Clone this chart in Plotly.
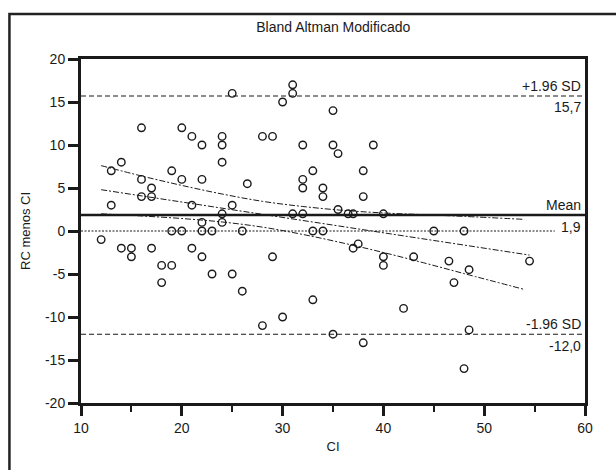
import plotly.graph_objects as go

# ---- data ----
ci = [12, 13, 13, 14, 14, 15, 15, 16, 16, 16, 17, 17, 17, 18, 18, 19, 19, 19,
      20, 20, 20, 21, 21, 21, 22, 22, 22, 22, 22, 23, 23, 24, 24, 24, 24, 24,
      25, 25, 25, 26, 26, 26.5, 28, 28, 29, 29, 30, 30, 31, 31, 31, 32, 32, 32, 32,
      33, 33, 33, 34, 34, 34, 35, 35, 35, 35.5, 35.5, 36.5, 37, 37, 37.5, 38, 38, 38,
      39, 40, 40, 40, 42, 43, 45, 46.5, 47, 48, 48, 48.5, 48.5, 54.5]
diff = [-1, 7, 3, 8, -2, -2, -3, 12, 6, 4, 5, 4, -2, -4, -6, 7, 0, -4,
        12, 6, 0, 11, 3, -2, 10, 6, 1, 0, -3, 0, -5, 11, 10, 8, 2, 1,
        16, 3, -5, 0, -7, 5.5, 11, -11, 11, -3, 15, -10, 17, 16, 2, 10, 6, 5, 2,
        7, 0, -8, 5, 4, 0, 14, 10, -12, 9, 2.5, 2, 2, -2, -1.5, 7, 4, -13,
        10, 2, -3, -4, -9, -3, 0, -3.5, -6, 0, -16, -4.5, -11.5, -3.5]

mean_diff = 1.86
upper_loa = 15.7
lower_loa = -12.0
zero_x = [10, 57]
zero_y = [0, 0]

reg_x = [12, 54.5]
reg_y = [4.8, -2.8]
band_x = [12, 16, 20, 24, 28, 32, 36, 40, 44, 48, 54]
band_upper = [7.6, 6.4, 5.3, 4.3, 3.45, 2.85, 2.4, 2.1, 1.9, 1.7, 1.35]
band_lower = [2.0, 1.75, 1.45, 1.05, 0.45, -0.4, -1.4, -2.5, -3.7, -4.95, -6.8]

x_range = [10, 60]
y_range = [-20, 20]
x_ticks = [10, 20, 30, 40, 50, 60]
x_ticktext = ["10", "20", "30", "40", "50", "60"]
y_ticks = [-20, -15, -10, -5, 0, 5, 10, 15, 20]
y_ticktext = ["-20", "-15", "-10", "-5", "0", "5", "10", "15", "20"]

FONT = "Liberation Sans, Arial, sans-serif"
INK = "#1a1a1a"

fig = go.Figure()

# limits of agreement
fig.add_trace(go.Scatter(x=x_range, y=[upper_loa, upper_loa], mode="lines",
                         line=dict(color=INK, width=1.1, dash="5px,3px"),
                         hoverinfo="skip", showlegend=False))
fig.add_trace(go.Scatter(x=x_range, y=[lower_loa, lower_loa], mode="lines",
                         line=dict(color=INK, width=1.1, dash="5px,3px"),
                         hoverinfo="skip", showlegend=False))
# mean
fig.add_trace(go.Scatter(x=x_range, y=[mean_diff, mean_diff], mode="lines",
                         line=dict(color=INK, width=2.6),
                         hoverinfo="skip", showlegend=False))
# zero line
fig.add_trace(go.Scatter(x=zero_x, y=zero_y, mode="lines",
                         line=dict(color=INK, width=1.1, dash="2px,1.5px"),
                         hoverinfo="skip", showlegend=False))
# regression + bands
dd = "6px,2px,2px,2px"
fig.add_trace(go.Scatter(x=reg_x, y=reg_y, mode="lines",
                         line=dict(color=INK, width=1, dash=dd),
                         hoverinfo="skip", showlegend=False))
fig.add_trace(go.Scatter(x=band_x, y=band_upper, mode="lines",
                         line=dict(color=INK, width=1, dash=dd, shape="spline"),
                         hoverinfo="skip", showlegend=False))
fig.add_trace(go.Scatter(x=band_x, y=band_lower, mode="lines",
                         line=dict(color=INK, width=1, dash=dd, shape="spline"),
                         hoverinfo="skip", showlegend=False))
# points
fig.add_trace(go.Scatter(x=ci, y=diff, mode="markers",
                         marker=dict(symbol="circle-open", size=7.5,
                                     color=INK, line=dict(color=INK, width=1.4)),
                         showlegend=False))

ann_font = dict(family=FONT, size=14, color=INK)
labels = [
    ("+1.96 SD", upper_loa, 10),
    ("15,7", upper_loa, -11),
    ("Mean", mean_diff, 10),
    ("1,9", mean_diff, -12),
    ("-1.96 SD", lower_loa, 10),
    ("-12,0", lower_loa, -12),
]
for txt, yv, ys in labels:
    fig.add_annotation(x=60, y=yv, xref="x", yref="y", text=txt, showarrow=False,
                       xanchor="right", yanchor="middle", xshift=-2, yshift=ys,
                       font=ann_font)

# outer frame
fig.add_shape(type="rect", xref="paper", yref="paper",
              x0=-0.142, x1=1.07, y0=-0.21, y1=1.131,
              line=dict(color="#222", width=2.5), layer="below")

axis_common = dict(
    showgrid=False, zeroline=False, showline=True, linecolor=INK, linewidth=3,
    mirror=True, ticks="outside", ticklen=10, tickwidth=3, tickcolor=INK,
    tickfont=dict(family=FONT, size=14, color=INK), automargin=False,
)

fig.update_layout(
    width=616, height=470,
    margin=dict(l=81, r=31, t=59, b=67),
    paper_bgcolor="white", plot_bgcolor="white",
    title=dict(text="Bland Altman Modificado", x=0.541, xanchor="center",
               y=1 - 27 / 470, yanchor="middle",
               font=dict(family=FONT, size=14, color=INK)),
    xaxis=dict(range=x_range, tickvals=x_ticks, ticktext=x_ticktext,
               title=dict(text="CI", font=dict(family=FONT, size=13, color=INK),
                          standoff=8),
               minor=dict(dtick=5, tick0=15, ticks="outside", ticklen=6,
                          tickwidth=2, tickcolor=INK),
               **axis_common),
    yaxis=dict(range=y_range, tickvals=y_ticks, ticktext=y_ticktext,
               title=dict(text="RC menos CI", font=dict(family=FONT, size=13, color=INK),
                          standoff=12),
               **axis_common),
)

fig.write_html("out.html",
               config={"displayModeBar": False, "staticPlot": True},
               post_script="document.body.style.margin='0px';"
                           "document.body.style.overflow='hidden';")
